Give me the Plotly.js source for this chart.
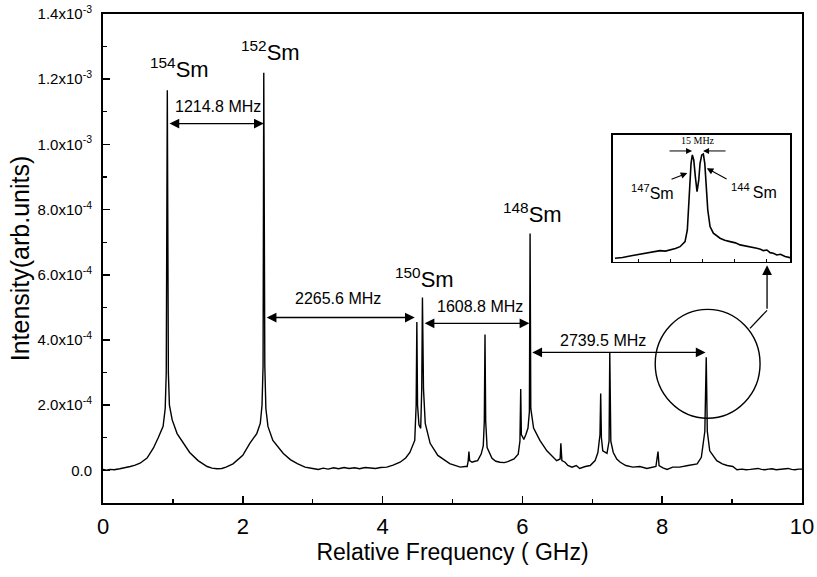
<!DOCTYPE html>
<html>
<head>
<meta charset="utf-8">
<script src="https://cdn.plot.ly/plotly-3.0.1.min.js"></script>
<style>html,body{margin:0;padding:0;background:#fff;}#chart{width:817px;height:577px;}</style>
</head>
<body>
<div id="chart"></div>
<script>
// Main spectrum: relative frequency (GHz) and intensity (units of 1e-4 arb. units)
const freqGHz = [0.00,0.05,0.10,0.16,0.24,0.30,0.39,0.46,0.53,0.63,0.72,0.79,0.86,0.89,0.905,0.92,0.935,0.95,0.99,1.06,1.14,1.24,1.36,1.49,1.56,1.63,1.70,1.76,1.86,2.00,2.10,2.20,2.25,2.275,2.29,2.30,2.315,2.33,2.36,2.43,2.58,2.68,2.78,2.89,3.00,3.08,3.15,3.22,3.30,3.37,3.45,3.52,3.60,3.67,3.75,3.82,3.90,3.97,4.06,4.15,4.25,4.33,4.39,4.46,4.48,4.49,4.50,4.52,4.545,4.56,4.57,4.585,4.61,4.68,4.79,4.96,5.04,5.11,5.18,5.21,5.225,5.235,5.245,5.28,5.32,5.36,5.41,5.44,5.455,5.465,5.475,5.495,5.565,5.62,5.68,5.74,5.79,5.88,5.94,5.965,5.976,5.985,6.01,6.02,6.05,6.08,6.10,6.11,6.12,6.135,6.16,6.25,6.35,6.42,6.49,6.54,6.55,6.565,6.61,6.65,6.71,6.77,6.82,6.90,6.97,7.04,7.08,7.11,7.12,7.13,7.15,7.21,7.24,7.25,7.265,7.30,7.35,7.40,7.48,7.58,7.68,7.78,7.85,7.91,7.94,7.955,8.01,8.07,8.15,8.25,8.37,8.44,8.50,8.56,8.58,8.61,8.63,8.645,8.68,8.74,8.78,8.86,8.93,9.01,9.07,9.14,9.20,9.26,9.32,9.37,9.42,9.47,9.52,9.57,9.63,9.69,9.75,9.80,9.85,9.90,9.95,10.0];
const intensity = [0.03,0.01,0.03,0.02,0.05,0.07,0.12,0.16,0.22,0.38,0.68,1.0,1.35,1.9,3.0,11.66,3.0,2.0,1.55,1.13,0.88,0.55,0.30,0.12,0.07,0.05,0.06,0.10,0.20,0.46,0.83,1.13,1.44,2.0,3.2,12.2,3.2,1.9,1.35,0.92,0.52,0.33,0.21,0.10,0.06,0.03,0.07,0.04,0.08,0.05,0.09,0.06,0.08,0.05,0.09,0.07,0.06,0.09,0.10,0.16,0.25,0.38,0.55,0.92,2.0,4.55,2.0,1.4,1.29,2.5,5.3,2.5,1.44,0.83,0.46,0.21,0.14,0.10,0.12,0.12,0.3,0.58,0.3,0.25,0.28,0.30,0.50,0.75,1.5,4.17,1.5,0.7,0.37,0.28,0.25,0.24,0.27,0.35,0.5,0.9,2.5,1.1,1.0,0.95,1.1,1.3,1.8,7.27,1.9,1.6,1.3,0.92,0.6,0.45,0.3,0.35,0.83,0.3,0.25,0.15,0.10,0.15,0.06,0.12,0.15,0.3,0.55,1.1,2.36,1.0,0.6,0.52,0.9,3.6,0.9,0.55,0.35,0.25,0.15,0.10,0.12,0.06,0.10,0.12,0.58,0.15,0.08,0.03,0.10,0.10,0.15,0.18,0.20,0.40,0.67,1.2,3.47,1.2,0.6,0.4,0.3,0.2,0.15,0.12,0.02,0.04,0.02,0.03,0.05,0.06,0.03,0.02,0.04,0.05,0.02,0.03,0.05,0.06,0.03,0.02,0.04,0.04];

// Inset: detuning (MHz) and signal (relative)
const insetMHz = [-108.5,-98,-87.5,-76,-63.7,-54,-45.5,-38,-31.5,-24,-17.5,-10.5,-7.3,-5.3,-3.5,-2.1,-0.3,1.7,3.9,6.3,8.7,10.5,12.9,15.1,17.1,18.9,21.3,24.5,29.1,38.5,45,52.5,60,66.5,73,80.5,85,89.9,95,99.1,104,108.5,113,117.9,123,129.5,136.5];
const insetSignal = [0.029,0.035,0.047,0.060,0.069,0.082,0.089,0.085,0.094,0.105,0.120,0.160,0.252,0.435,0.646,0.777,0.843,0.803,0.672,0.554,0.646,0.777,0.843,0.850,0.777,0.593,0.409,0.278,0.226,0.187,0.170,0.160,0.150,0.134,0.128,0.120,0.114,0.107,0.100,0.089,0.094,0.073,0.068,0.055,0.060,0.042,0.034];

const yTickVals = [0,2,4,6,8,10,12,14];
const yTickText = ['0.0','2.0x10<sup>-4</sup>','4.0x10<sup>-4</sup>','6.0x10<sup>-4</sup>','8.0x10<sup>-4</sup>','1.0x10<sup>-3</sup>','1.2x10<sup>-3</sup>','1.4x10<sup>-3</sup>'];
const yMinorVals = [1,3,5,7,9,11,13];

// Isotope labels
const isoText = ['<sup>154</sup>Sm','<sup>152</sup>Sm','<sup>150</sup>Sm','<sup>148</sup>Sm'];
const isoX = [1.10, 2.39, 4.60, 6.14];
const isoY = [12.35, 12.85, 5.9, 7.9];

// Spacing arrows
const spacingText = ['1214.8 MHz','2265.6 MHz','1608.8 MHz','2739.5 MHz'];
const spacingFrom = [0.93, 2.32, 4.58, 6.12];
const spacingTo = [2.30, 4.46, 6.10, 8.62];
const spacingY = [10.64, 4.69, 4.51, 3.62];
const spacingTextX = [1.645, 3.36, 5.39, 7.15];
const spacingTextY = [11.17, 5.28, 5.03, 3.99];

const FONT = 'Liberation Sans, Arial, sans-serif';

const traces = [
  {x: freqGHz, y: intensity, type: 'scatter', mode: 'lines', line: {color: '#000', width: 1.4}, xaxis: 'x', yaxis: 'y', hoverinfo: 'skip'},
  {x: insetMHz, y: insetSignal, type: 'scatter', mode: 'lines', line: {color: '#000', width: 1.6}, xaxis: 'x2', yaxis: 'y2', hoverinfo: 'skip'}
];

const annotations = [];
isoText.forEach((t, i) => annotations.push({x: isoX[i], y: isoY[i], xref: 'x', yref: 'y', text: t, showarrow: false, font: {family: FONT, size: 22, color: '#000'}, xanchor: 'center', yanchor: 'middle'}));
spacingText.forEach((t, i) => {
  annotations.push({x: spacingTextX[i], y: spacingTextY[i], xref: 'x', yref: 'y', text: t, showarrow: false, font: {family: FONT, size: 16, color: '#000'}, xanchor: 'center', yanchor: 'middle'});
  annotations.push({x: spacingTo[i], y: spacingY[i], ax: spacingFrom[i], ay: spacingY[i], xref: 'x', yref: 'y', axref: 'x', ayref: 'y', text: '', showarrow: true, arrowside: 'end+start', arrowhead: 2, arrowsize: 1.5, arrowwidth: 1.3, arrowcolor: '#000', standoff: 0, startstandoff: 0});
});
// Arrow from circle to inset
annotations.push({x: 9.50, y: 6.29, ax: 9.50, ay: 4.91, xref: 'x', yref: 'y', axref: 'x', ayref: 'y', text: '', showarrow: true, arrowhead: 2, arrowsize: 1.5, arrowwidth: 1.3, arrowcolor: '#000', standoff: 0});
// Inset annotations
annotations.push({x: 7, y: 0.955, xref: 'x2', yref: 'y2', text: '15 MHz', showarrow: false, font: {family: 'Liberation Serif, Times New Roman, serif', size: 10, color: '#000'}, xanchor: 'center', yanchor: 'middle'});
annotations.push({x: -0.7, y: 0.874, ax: -34.3, ay: 0.874, xref: 'x2', yref: 'y2', axref: 'x2', ayref: 'y2', text: '', showarrow: true, arrowhead: 2, arrowsize: 1.2, arrowwidth: 1, arrowcolor: '#000', standoff: 0});
annotations.push({x: 14.7, y: 0.874, ax: 48.3, ay: 0.874, xref: 'x2', yref: 'y2', axref: 'x2', ayref: 'y2', text: '', showarrow: true, arrowhead: 2, arrowsize: 1.2, arrowwidth: 1, arrowcolor: '#000', standoff: 0});
annotations.push({x: -56.7, y: 0.55, xref: 'x2', yref: 'y2', text: '<sup>147</sup>Sm', showarrow: false, font: {family: FONT, size: 16, color: '#000'}, xanchor: 'center', yanchor: 'middle'});
annotations.push({x: 86, y: 0.56, xref: 'x2', yref: 'y2', text: '<sup>144 </sup>Sm', showarrow: false, font: {family: FONT, size: 16, color: '#000'}, xanchor: 'center', yanchor: 'middle'});
annotations.push({x: -7.3, y: 0.70, ax: -31.5, ay: 0.646, xref: 'x2', yref: 'y2', axref: 'x2', ayref: 'y2', text: '', showarrow: true, arrowhead: 2, arrowsize: 1.2, arrowwidth: 1.1, arrowcolor: '#000', standoff: 0});
annotations.push({x: 19.9, y: 0.738, ax: 49.7, ay: 0.646, xref: 'x2', yref: 'y2', axref: 'x2', ayref: 'y2', text: '', showarrow: true, arrowhead: 2, arrowsize: 1.2, arrowwidth: 1.1, arrowcolor: '#000', standoff: 0});

const shapes = [
  {type: 'circle', xref: 'x', yref: 'y', x0: 7.90, x1: 9.40, y0: 1.6, y1: 4.94, line: {color: '#000', width: 1.4}},
  {type: 'line', xref: 'x', yref: 'y', x0: 9.256, y0: 4.356, x1: 9.50, y1: 4.91, line: {color: '#000', width: 1.3}}
];

const layout = {
  width: 817, height: 577,
  margin: {l: 103, r: 15, t: 14, b: 74, pad: 0},
  paper_bgcolor: '#fff', plot_bgcolor: '#fff',
  showlegend: false,
  font: {family: FONT, color: '#000'},
  xaxis: {
    range: [0, 10], tickmode: 'linear', tick0: 0, dtick: 2,
    ticks: 'inside', ticklen: 7, tickwidth: 1.5, tickcolor: '#000',
    minor: {tickmode: 'linear', tick0: 1, dtick: 2, ticks: 'inside', ticklen: 4, tickwidth: 1.2, tickcolor: '#000', showgrid: false},
    showline: true, linecolor: '#000', linewidth: 2, mirror: true,
    showgrid: false, zeroline: false,
    tickfont: {family: FONT, size: 22, color: '#000'}, ticklabelstandoff: 3,
    title: {text: 'Relative Frequency ( GHz)', font: {family: FONT, size: 23, color: '#000'}, standoff: 5}
  },
  yaxis: {
    range: [-1, 14], tickmode: 'array', tickvals: yTickVals, ticktext: yTickText,
    ticks: 'inside', ticklen: 7, tickwidth: 1.5, tickcolor: '#000',
    minor: {tickvals: yMinorVals, ticks: 'inside', ticklen: 4, tickwidth: 1.2, tickcolor: '#000', showgrid: false},
    showline: true, linecolor: '#000', linewidth: 2, mirror: true,
    showgrid: false, zeroline: false,
    tickfont: {family: FONT, size: 15, color: '#000'}, ticklabelstandoff: 6,
    title: {text: 'Intensity(arb.units)', font: {family: FONT, size: 25, color: '#000'}, standoff: 1}
  },
  xaxis2: {
    domain: [0.7296, 0.983], anchor: 'y2', range: [-111.3, 136.5],
    tickmode: 'linear', tick0: -75, dtick: 44.6, ticks: 'inside', ticklen: 3, tickwidth: 1, tickcolor: '#000',
    showticklabels: false, showline: true, linecolor: '#000', linewidth: 1.5, mirror: true,
    showgrid: false, zeroline: false
  },
  yaxis2: {
    domain: [0.493, 0.7526], anchor: 'x2', range: [0, 1],
    ticks: '', showticklabels: false, showline: true, linecolor: '#000', linewidth: 1.5, mirror: true,
    showgrid: false, zeroline: false
  },
  annotations: annotations,
  shapes: shapes
};

Plotly.newPlot('chart', traces, layout, {staticPlot: true, displayModeBar: false});
</script>
</body>
</html>
